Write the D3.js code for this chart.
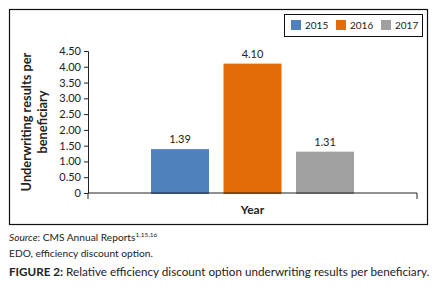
<!DOCTYPE html>
<html>
<head>
<meta charset="utf-8">
<script src="https://cdn.jsdelivr.net/npm/d3@7"></script>
<style>
  body { margin: 0; background: white; }
  text { font-family: Lato, "Open Sans", sans-serif; }
</style>
</head>
<body>
<svg id="viz"></svg>
<script>
const years = ["2015", "2016", "2017"];
const values = [1.39, 4.10, 1.31];
const colors = ["#4f81bd", "#e36c09", "#a0a0a0"];
const yTicks = [0, 0.5, 1, 1.5, 2, 2.5, 3, 3.5, 4, 4.5];

const width = 433, height = 289;
const margin = { top: 51, right: 16, bottom: 96, left: 88 };

const svg = d3.select("#viz")
    .attr("width", width)
    .attr("height", height)
    .attr("viewBox", [0, 0, width, height]);

// outer frame
svg.append("rect")
    .attr("x", 9.5).attr("y", 9.5)
    .attr("width", 418).attr("height", 215)
    .attr("fill", "none")
    .attr("stroke", "#111")
    .attr("stroke-width", 1.2);

const x = d3.scaleBand()
    .domain(["Year"])
    .range([margin.left, width - margin.right]);

const xInner = d3.scaleBand()
    .domain(years)
    .range([151, 354])
    .paddingInner(0.2);

const y = d3.scaleLinear()
    .domain([0, 4.5])
    .range([height - margin.bottom, margin.top]);

// y axis
svg.append("g")
    .attr("transform", `translate(${margin.left},0)`)
    .call(d3.axisLeft(y).tickValues(yTicks).tickSize(4)
        .tickFormat(d => d === 0 ? "0" : d3.format(".2f")(d)))
    .call(g => {
      g.selectAll("path, line").attr("stroke", "#222");
      g.selectAll("text").attr("font-size", 11).attr("fill", "#222")
        .attr("font-family", "Lato, sans-serif");
    });

// bars
svg.append("g")
  .selectAll("rect")
  .data(years)
  .join("rect")
    .attr("x", d => xInner(d))
    .attr("y", (d, i) => y(values[i]))
    .attr("width", xInner.bandwidth())
    .attr("height", (d, i) => y(0) - y(values[i]) + 1)
    .attr("fill", (d, i) => colors[i]);

// x axis
svg.append("g")
    .attr("transform", `translate(0,${y(0)})`)
    .call(d3.axisBottom(x).tickSize(0).tickFormat(""))
    .call(g => {
      g.select(".domain").attr("stroke", "#222")
        .attr("d", `M${margin.left},6V0H${width - margin.right}V6`);
    });

svg.append("text")
    .attr("x", x("Year") + x.bandwidth() / 2)
    .attr("y", 214)
    .attr("text-anchor", "middle")
    .attr("font-size", 12)
    .attr("font-weight", "bold")
    .attr("fill", "#222")
    .text("Year");

// value labels
svg.append("g")
  .selectAll("text")
  .data(years)
  .join("text")
    .attr("x", d => xInner(d) + xInner.bandwidth() / 2)
    .attr("y", (d, i) => y(values[i]) - 6)
    .attr("text-anchor", "middle")
    .attr("font-size", 11)
    .attr("fill", "#222")
    .text((d, i) => values[i].toFixed(2));

// y label
const yl = svg.append("text")
    .attr("transform", `translate(31,122) rotate(-90)`)
    .attr("text-anchor", "middle")
    .attr("font-size", 12.8)
    .attr("font-weight", "bold")
    .attr("fill", "#222");
yl.append("tspan").attr("x", 0).attr("dy", 0).text("Underwriting results per");
yl.append("tspan").attr("x", 0).attr("dy", 15.5).text("beneficiary");

// legend
svg.append("rect")
    .attr("x", 284.5).attr("y", 14.5)
    .attr("width", 138).attr("height", 22)
    .attr("fill", "none")
    .attr("stroke", "#111")
    .attr("stroke-width", 1);

const leg = svg.append("g")
  .selectAll("g")
  .data(years)
  .join("g")
    .attr("transform", (d, i) => `translate(${291 + i * 45},20)`);
leg.append("rect")
    .attr("width", 10).attr("height", 10)
    .attr("fill", (d, i) => colors[i]);
leg.append("text")
    .attr("x", 14).attr("y", 9)
    .attr("font-size", 10)
    .attr("fill", "#222")
    .text(d => d);

// footer
const src = svg.append("text")
    .attr("x", 9).attr("y", 241)
    .attr("font-size", 10.2)
    .attr("fill", "#222");
src.append("tspan").attr("font-style", "italic").text("Source");
src.append("tspan").text(": CMS Annual Reports");
src.append("tspan").attr("font-size", 6.5).attr("dy", -4).text("1,15,16");

svg.append("text")
    .attr("x", 9).attr("y", 257)
    .attr("font-size", 10.2)
    .attr("fill", "#222")
    .text("EDO, efficiency discount option.");

const fig = svg.append("text")
    .attr("x", 9).attr("y", 276)
    .attr("font-size", 11.7)
    .attr("fill", "#222");
fig.append("tspan").attr("font-weight", "bold").text("FIGURE 2:");
fig.append("tspan").text(" Relative efficiency discount option underwriting results per beneficiary.");
</script>
</body>
</html>
